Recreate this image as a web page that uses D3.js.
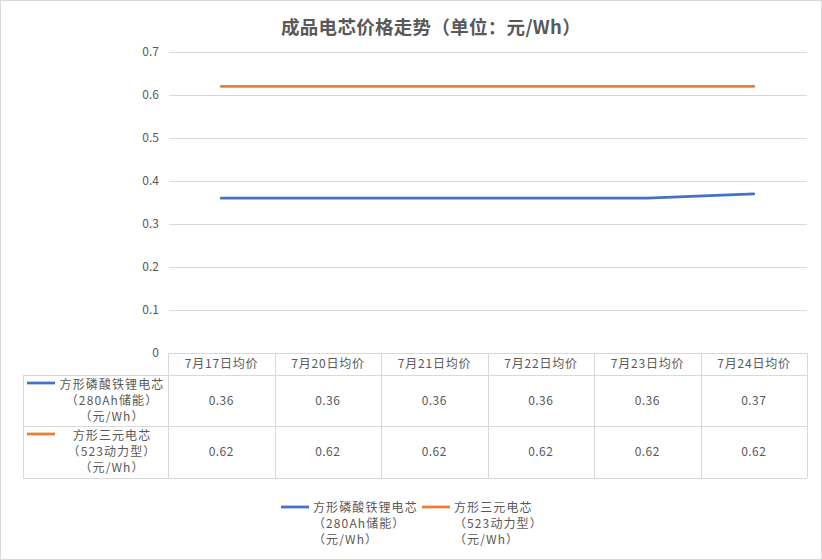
<!DOCTYPE html>
<html><head><meta charset="utf-8">
<script src="https://cdn.jsdelivr.net/npm/d3@7"></script>
<style>
html,body{margin:0;padding:0;background:#fff;}
svg text{font-family:"Noto Sans CJK SC","Noto Sans",sans-serif;fill:#595959;}
</style></head>
<body>
<svg id="c" width="822" height="560"></svg>
<script>
const title = "成品电芯价格走势（单位：元/Wh）";
const categories = ["7月17日均价","7月20日均价","7月21日均价","7月22日均价","7月23日均价","7月24日均价"];
const seriesNames = [["方形磷酸铁锂电芯","（280Ah储能）","（元/Wh）"],["方形三元电芯","（523动力型）","（元/Wh）"]];
const lfpValues = [0.36,0.36,0.36,0.36,0.36,0.37];
const ncmValues = [0.62,0.62,0.62,0.62,0.62,0.62];
const yTicks = [0,0.1,0.2,0.3,0.4,0.5,0.6,0.7];
const colors = ["#4472C4","#ED7D31"];
const series = [lfpValues, ncmValues];

const svg = d3.select("#c");
svg.append("rect").attr("x",0.5).attr("y",0.5).attr("width",821).attr("height",559)
  .attr("fill","#fff").attr("stroke","#d9d9d9");

svg.append("text").attr("x",431).attr("y",34).attr("text-anchor","middle")
  .style("font-size","18.5px").style("font-weight","bold").style("letter-spacing","0.3px").text(title);

const x = d3.scaleBand().domain(categories).range([168,807]);
const y = d3.scaleLinear().domain([0,0.7]).range([353,52]);

// gridlines
const yAxis = d3.axisLeft(y).tickValues(yTicks).tickSize(-(807-169)).tickPadding(10)
  .tickFormat(d => d===0 ? "0" : d3.format(".1f")(d));
const ga = svg.append("g").attr("transform","translate(169,0)").call(yAxis);
ga.select(".domain").remove();
ga.selectAll(".tick line").attr("stroke","#d9d9d9");
ga.selectAll(".tick text").style("font-size","12px").attr("fill","#595959");

// lines
const line = d3.line().x((d,i)=>x(categories[i])+x.bandwidth()/2).y(d=>y(d));
series.forEach((s,k)=>{
  svg.append("path").datum(s).attr("d",line).attr("fill","none")
    .attr("stroke",colors[k]).attr("stroke-width",2.75).attr("stroke-linecap","round");
});

// data table
const tg = svg.append("g");
const rowTop = [353,375,426,478];
const grid = "#d9d9d9";
tg.append("line").attr("x1",168).attr("x2",807).attr("y1",353.5).attr("y2",353.5).attr("stroke",grid);
[375.5,426.5,478.5].forEach(yy=>tg.append("line").attr("x1",23).attr("x2",807).attr("y1",yy).attr("y2",yy).attr("stroke",grid));
categories.forEach((c,i)=>{
  tg.append("line").attr("x1",Math.round(x(c))+0.5).attr("x2",Math.round(x(c))+0.5).attr("y1",353).attr("y2",478).attr("stroke",grid);
});
tg.append("line").attr("x1",807.5).attr("x2",807.5).attr("y1",353).attr("y2",478).attr("stroke",grid);
tg.append("line").attr("x1",23.5).attr("x2",23.5).attr("y1",375).attr("y2",478).attr("stroke",grid);

categories.forEach(c=>{
  tg.append("text").attr("x",x(c)+x.bandwidth()/2+0.4).attr("y",368).attr("text-anchor","middle")
    .style("font-size","12px").style("letter-spacing","0.8px").text(c);
});
series.forEach((s,k)=>{
  const top = rowTop[k+1];
  s.forEach((v,i)=>{
    tg.append("text").attr("x",x(categories[i])+x.bandwidth()/2).attr("y",top+30)
      .attr("text-anchor","middle").style("font-size","12px").style("letter-spacing","0.4px").text(d3.format(".2f")(v));
  });
  tg.append("line").attr("x1",27).attr("x2",55).attr("y1",top+8).attr("y2",top+8)
    .attr("stroke",colors[k]).attr("stroke-width",2.75);
  seriesNames[k].forEach((t,j)=>{
    tg.append("text").attr("x",112).attr("y",top+14+j*16).attr("text-anchor","middle")
      .style("font-size","12px").style("letter-spacing","1.1px").text(t);
  });
});

// legend
const legX = [281,422];
series.forEach((s,k)=>{
  svg.append("line").attr("x1",legX[k]).attr("x2",legX[k]+28).attr("y1",507).attr("y2",507)
    .attr("stroke",colors[k]).attr("stroke-width",2.75);
  seriesNames[k].forEach((t,j)=>{
    svg.append("text").attr("x",legX[k]+32).attr("y",512+j*16)
      .style("font-size","12px").style("letter-spacing","1.1px").text(t);
  });
});
</script>
</body></html>
